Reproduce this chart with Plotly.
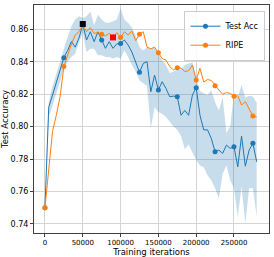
import plotly.graph_objects as go

iterations = list(range(0, 285000, 5000))

test_acc = [0.750, 0.812, 0.8195, 0.8267, 0.8353, 0.8425, 0.847, 0.8525, 0.849, 0.8546,
            0.863, 0.8534, 0.8585, 0.8524, 0.8585, 0.8534, 0.8483, 0.8524, 0.8483, 0.851,
            0.8513, 0.8534, 0.8503, 0.846, 0.840, 0.8335, 0.839, 0.840, 0.8215, 0.8318,
            0.8226, 0.8277, 0.8236, 0.8184, 0.8188, 0.8184, 0.807, 0.810, 0.807, 0.8195,
            0.824, 0.807, 0.798, 0.798, 0.7927, 0.7845, 0.7855, 0.7835, 0.7886, 0.7866,
            0.7876, 0.7752, 0.7942, 0.7756, 0.7855, 0.7897, 0.7783]

ripe = [0.750, 0.774, 0.797, 0.807, 0.8185, 0.837, 0.8445, 0.851, 0.8565, 0.8585,
        0.8625, 0.8585, 0.861, 0.8575, 0.858, 0.857, 0.856, 0.8575, 0.855, 0.858,
        0.855, 0.8585, 0.8565, 0.859, 0.853, 0.857, 0.8585, 0.849, 0.848, 0.849,
        0.8456, 0.842, 0.841, 0.837, 0.835, 0.8363, 0.836, 0.834, 0.8345, 0.838,
        0.8287, 0.836, 0.8275, 0.829, 0.8285, 0.8252, 0.8226, 0.820, 0.821, 0.8205,
        0.8188, 0.819, 0.8133, 0.8154, 0.8113, 0.8065, 0.806]

band_upper = [0.751, 0.815, 0.825, 0.832, 0.840, 0.848, 0.855, 0.862, 0.866, 0.868,
              0.867, 0.868, 0.871, 0.8625, 0.869, 0.866, 0.864, 0.864, 0.865, 0.866,
              0.873, 0.866, 0.864, 0.861, 0.856, 0.849, 0.847, 0.849, 0.848, 0.849,
              0.845, 0.841, 0.838, 0.833, 0.834, 0.835, 0.835, 0.838, 0.839, 0.8395,
              0.830, 0.822, 0.8205, 0.8195, 0.8225, 0.815, 0.810, 0.818, 0.796, 0.800,
              0.8205, 0.818, 0.8256, 0.818, 0.819, 0.8185, 0.8147]

band_lower = [0.749, 0.806, 0.813, 0.820, 0.828, 0.836, 0.840, 0.843, 0.845, 0.852,
              0.858, 0.846, 0.848, 0.848, 0.844, 0.844, 0.843, 0.843, 0.842, 0.843,
              0.842, 0.847, 0.843, 0.838, 0.834, 0.8285, 0.827, 0.825, 0.799, 0.812,
              0.809, 0.808, 0.806, 0.803, 0.800, 0.798, 0.794, 0.786, 0.789, 0.784,
              0.7794, 0.776, 0.775, 0.770, 0.767, 0.762, 0.7557, 0.771, 0.776, 0.767,
              0.762, 0.7444, 0.763, 0.7403, 0.762, 0.762, 0.7444]

best_point = (50000, 0.8633)
red_point = (90000, 0.855)

marker_every = 5
mk_x = iterations[::marker_every]

blue = "#1f77b4"
orange = "#ff7f0e"

fig = go.Figure()
fig.add_trace(go.Scatter(x=iterations, y=band_upper, mode="lines", line=dict(width=0),
                         showlegend=False, hoverinfo="skip"))
fig.add_trace(go.Scatter(x=iterations, y=band_lower, mode="lines", line=dict(width=0),
                         fill="tonexty", fillcolor="rgba(31,119,180,0.25)",
                         showlegend=False, hoverinfo="skip"))
fig.add_trace(go.Scatter(x=iterations, y=test_acc, mode="lines", line=dict(color=blue, width=1),
                         showlegend=False))
fig.add_trace(go.Scatter(x=mk_x, y=test_acc[::marker_every], mode="markers",
                         marker=dict(color=blue, size=5), showlegend=False))
fig.add_trace(go.Scatter(x=iterations, y=ripe, mode="lines", line=dict(color=orange, width=1),
                         showlegend=False))
fig.add_trace(go.Scatter(x=mk_x, y=ripe[::marker_every], mode="markers",
                         marker=dict(color=orange, size=5), showlegend=False))
fig.add_trace(go.Scatter(x=[best_point[0]], y=[best_point[1]], mode="markers",
                         marker=dict(color="black", size=6, symbol="square"), showlegend=False))
fig.add_trace(go.Scatter(x=[red_point[0]], y=[red_point[1]], mode="markers",
                         marker=dict(color="red", size=6, symbol="square"), showlegend=False))
# legend entries
fig.add_trace(go.Scatter(x=[None], y=[None], mode="lines+markers", name="Test Acc",
                         line=dict(color=blue, width=1), marker=dict(color=blue, size=5)))
fig.add_trace(go.Scatter(x=[None], y=[None], mode="lines+markers", name="RIPE",
                         line=dict(color=orange, width=1), marker=dict(color=orange, size=5)))

axis_common = dict(showgrid=True, gridcolor="#d4d4d4", gridwidth=1, zeroline=False,
                   showline=True, linecolor="#404040", linewidth=1, mirror=True,
                   ticks="outside", ticklen=3, tickcolor="#404040", automargin=False)

fig.update_layout(
    width=274, height=257,
    margin=dict(l=34, r=5, t=5, b=24, autoexpand=False),
    paper_bgcolor="white", plot_bgcolor="white",
    font=dict(family="DejaVu Sans", color="black"),
    showlegend=True,
    legend=dict(x=0.985, y=0.975, xanchor="right", yanchor="top", traceorder="normal",
                bgcolor="rgba(255,255,255,0.85)", bordercolor="#cccccc", borderwidth=1,
                font=dict(size=8), tracegroupgap=0, itemwidth=30),
    xaxis=dict(range=[-14500, 296300], tickvals=[0, 50000, 100000, 150000, 200000, 250000],
               ticktext=["0", "50000", "100000", "150000", "200000", "250000"],
               tickfont=dict(size=7), title=dict(text="Training iterations", font=dict(size=8.5)),
               **axis_common),
    yaxis=dict(range=[0.7344, 0.875], tickvals=[0.74, 0.76, 0.78, 0.80, 0.82, 0.84, 0.86],
               ticktext=["0.74", "0.76", "0.78", "0.80", "0.82", "0.84", "0.86"],
               tickfont=dict(size=8), title=dict(text="Test Accuracy", font=dict(size=8.5)),
               **axis_common),
)

fig.write_html("out.html", config={"displayModeBar": False},
               post_script="document.body.style.margin='0';")
